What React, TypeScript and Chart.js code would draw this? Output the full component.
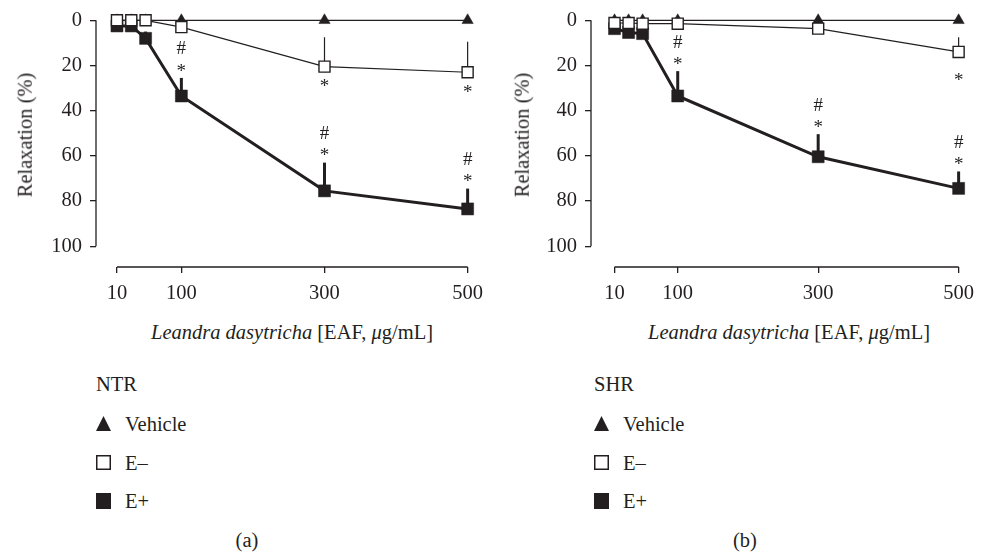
import React, { useEffect, useRef } from 'react';
import { Chart, registerables } from 'chart.js';

Chart.register(...registerables);

const INK = '#231f20';
const FONT = "'Liberation Serif', 'Times New Roman', serif";
const FS = 20.5;

// shared axes
const concentrations = [10, 30, 50, 100, 300, 500];
const xTickValues = [10, 100, 300, 500];
const xTickLabels = ['10', '100', '300', '500'];
const yTickValues = [0, 20, 40, 60, 80, 100];
const yTickLabels = ['0', '20', '40', '60', '80', '100'];
const seriesNames = ['Vehicle', 'E\u2013', 'E+'];
const xTitleItalic = 'Leandra dasytricha';
const xTitleRest = ' [EAF, ';
const xTitleUnit = 'g/mL]';
const yTitle = 'Relaxation (%)';

// (a) NTR
const ntrVehicle = [0, 0, 0, 0, 0, 0];
const ntrEMinus = [0, 0, 0, 3, 20.5, 23];
const ntrEMinusErr = [0, 0, 0, 0, 13, 13.5];
const ntrEPlus = [2.5, 2.5, 8, 33.5, 75.5, 83.5];
const ntrEPlusErr = [0, 0, 3, 8, 12.5, 9];
const ntrEMinusSig = ['', '', '', '', '*', '*'];
const ntrEPlusSig = ['', '', '', '#*', '#*', '#*'];

// (b) SHR
const shrVehicle = [0, 0, 0, 0, 0, 0];
const shrEMinus = [1.2, 1.2, 1.5, 1.5, 3.7, 14];
const shrEMinusErr = [0, 0, 0, 0, 0, 6.5];
const shrEPlus = [3.7, 5.4, 5.9, 33.5, 60.4, 74.4];
const shrEPlusErr = [0, 0, 0, 11, 10, 7.5];
const shrEMinusSig = ['', '', '', '', '', '*'];
const shrEPlusSig = ['', '', '', '#*', '#*', '#*'];

type PanelProps = {
  offsetX: number;
  group: string;
  caption: string;
  vehicle: number[];
  eMinus: number[];
  eMinusErr: number[];
  eMinusSig: string[];
  ePlus: number[];
  ePlusErr: number[];
  ePlusSig: string[];
  axisWidth: number;
  rightPad: number;
  xMin: number;
  starBelow: number;
  yTitleCx: number;
  xTitleCx: number;
  legendX: number;
  captionCx: number;
};

const CANVAS_W = 491;
const CANVAS_H = 310;

function Panel(p: PanelProps) {
  const ref = useRef<HTMLCanvasElement | null>(null);

  useEffect(() => {
    const canvas = ref.current;
    if (!canvas) return;
    const pts = (arr: number[]) => concentrations.map((x, i) => ({ x, y: arr[i] }));

    const axisPlugin = {
      id: 'axisLines',
      beforeDatasetsDraw(chart: any) {
        const { ctx, chartArea, scales } = chart;
        const x = scales.x, y = scales.y;
        ctx.save();
        ctx.strokeStyle = INK;
        ctx.lineWidth = 1.3;
        ctx.beginPath();
        ctx.moveTo(chartArea.left, y.getPixelForValue(yTickValues[0]));
        ctx.lineTo(chartArea.left, y.getPixelForValue(yTickValues[yTickValues.length - 1]));
        ctx.moveTo(x.getPixelForValue(xTickValues[0]), chartArea.bottom);
        ctx.lineTo(x.getPixelForValue(xTickValues[xTickValues.length - 1]), chartArea.bottom);
        ctx.stroke();
        ctx.restore();
      },
    };

    const errSpecs = [
      { values: p.eMinus, errs: p.eMinusErr, width: 1.2 },
      { values: p.ePlus, errs: p.ePlusErr, width: 3 },
    ];

    const errorPlugin = {
      id: 'errorBars',
      beforeDatasetsDraw(chart: any) {
        const { ctx, scales } = chart;
        const x = scales.x, y = scales.y;
        ctx.save();
        ctx.strokeStyle = INK;
        errSpecs.forEach((s) => {
          ctx.lineWidth = s.width;
          s.values.forEach((v, i) => {
            const e = s.errs[i];
            if (!e) return;
            const px = x.getPixelForValue(concentrations[i]);
            ctx.beginPath();
            ctx.moveTo(px, y.getPixelForValue(v));
            ctx.lineTo(px, y.getPixelForValue(v - e));
            ctx.stroke();
          });
        });
        ctx.restore();
      },
      afterDatasetsDraw(chart: any) {
        const { ctx, scales } = chart;
        const x = scales.x, y = scales.y;
        ctx.save();
        ctx.fillStyle = INK;
        ctx.font = `19px ${FONT}`;
        ctx.textAlign = 'center';
        ctx.textBaseline = 'alphabetic';
        const drawMark = (ch: string, px: number, cy: number) => {
          const base = ch === '*' ? cy + 8.8 : cy + 6.4;
          ctx.fillText(ch, px, base);
        };
        p.ePlus.forEach((v, i) => {
          const sig = p.ePlusSig[i];
          if (!sig) return;
          const px = x.getPixelForValue(concentrations[i]);
          const top = y.getPixelForValue(v - (p.ePlusErr[i] || 0));
          const chars = sig.split('');
          chars.reverse().forEach((ch, k) => drawMark(ch, px, top - 10 - k * 20));
        });
        p.eMinus.forEach((v, i) => {
          const sig = p.eMinusSig[i];
          if (!sig) return;
          const px = x.getPixelForValue(concentrations[i]);
          const cy = y.getPixelForValue(v);
          drawMark(sig, px, cy + p.starBelow);
        });
        ctx.restore();
      },
    };

    const tickFont = { family: FONT, size: FS };

    const chart = new Chart(canvas, {
      type: 'line',
      data: {
        datasets: [
          {
            label: seriesNames[1],
            data: pts(p.eMinus),
            borderColor: INK,
            borderWidth: 1.2,
            pointStyle: 'rect',
            pointRadius: 7.8,
            pointBackgroundColor: '#ffffff',
            pointBorderColor: INK,
            pointBorderWidth: 1.4,
            clip: false,
            tension: 0,
          },
          {
            label: seriesNames[2],
            data: pts(p.ePlus),
            borderColor: INK,
            borderWidth: 3,
            pointStyle: 'rect',
            pointRadius: 8.5,
            pointBackgroundColor: INK,
            pointBorderColor: INK,
            pointBorderWidth: 0.5,
            clip: false,
            tension: 0,
          },
          {
            label: seriesNames[0],
            data: pts(p.vehicle),
            borderColor: INK,
            borderWidth: 1.2,
            pointStyle: 'triangle',
            pointRadius: 6.5,
            pointBackgroundColor: INK,
            pointBorderColor: INK,
            pointBorderWidth: 0.5,
            clip: false,
            tension: 0,
          },
        ],
      } as any,
      options: {
        responsive: false,
        animation: false,
        events: [],
        layout: { padding: { left: 0, top: 20, right: p.rightPad, bottom: 0 } },
        plugins: {
          legend: { display: false },
          tooltip: { enabled: false },
        },
        scales: {
          x: {
            type: 'linear',
            min: p.xMin,
            max: xTickValues[xTickValues.length - 1],
            afterBuildTicks: (s: any) => {
              s.ticks = xTickValues.map((v) => ({ value: v }));
            },
            afterFit: (s: any) => {
              s.height = CANVAS_H - 267;
            },
            ticks: {
              callback: (v: any) => {
                const i = xTickValues.indexOf(Number(v));
                return i >= 0 ? xTickLabels[i] : '';
              },
              color: INK,
              font: tickFont,
              padding: 8,
              maxRotation: 0,
              autoSkip: false,
            },
            grid: { drawOnChartArea: false, tickLength: 6, color: INK, lineWidth: 1.3 },
            border: { display: false },
          },
          y: {
            type: 'linear',
            reverse: true,
            min: 0,
            max: 109.2,
            afterBuildTicks: (s: any) => {
              s.ticks = yTickValues.map((v) => ({ value: v }));
            },
            afterFit: (s: any) => {
              s.width = p.axisWidth;
            },
            ticks: {
              callback: (v: any) => {
                const i = yTickValues.indexOf(Number(v));
                return i >= 0 ? yTickLabels[i] : '';
              },
              color: INK,
              font: tickFont,
              padding: 8,
              autoSkip: false,
            },
            grid: { drawOnChartArea: false, tickLength: 6, color: INK, lineWidth: 1.3 },
            border: { display: false },
          },
        },
      } as any,
      plugins: [axisPlugin, errorPlugin],
    });
    return () => chart.destroy();
  }, []);

  const text: React.CSSProperties = {
    position: 'absolute',
    fontFamily: FONT,
    fontSize: FS,
    color: INK,
    lineHeight: 1,
    whiteSpace: 'nowrap',
  };
  const rowYs = [423.5, 462.5, 501];
  const markerX = p.legendX;
  const labelX = p.legendX + 29;

  return (
    <>
      <canvas
        ref={ref}
        width={CANVAS_W}
        height={CANVAS_H}
        style={{ position: 'absolute', left: p.offsetX, top: 0, width: CANVAS_W, height: CANVAS_H }}
      />
      <div
        style={{
          ...text,
          left: p.yTitleCx,
          top: 134.5,
          transform: 'translate(-50%, -50%) rotate(-90deg)',
        }}
      >
        {yTitle}
      </div>
      <div style={{ ...text, left: p.xTitleCx, top: 332, transform: 'translate(-50%, -50%)' }}>
        <i>{xTitleItalic}</i>
        {xTitleRest}
        <i>{'\u03bc'}</i>
        {xTitleUnit}
      </div>
      <div style={{ ...text, left: p.legendX, top: 383.5, transform: 'translateY(-50%)' }}>{p.group}</div>
      <svg width={15} height={15} style={{ position: 'absolute', left: markerX, top: rowYs[0] - 7.5 }}>
        <polygon points="7.5,0 15,15 0,15" fill={INK} />
      </svg>
      <svg width={15} height={15} style={{ position: 'absolute', left: markerX, top: rowYs[1] - 7.5 }}>
        <rect x={0.75} y={0.75} width={13.5} height={13.5} fill="#fff" stroke={INK} strokeWidth={1.5} />
      </svg>
      <svg width={15} height={16} style={{ position: 'absolute', left: markerX, top: rowYs[2] - 8 }}>
        <rect x={0} y={0} width={15} height={16} fill={INK} />
      </svg>
      {seriesNames.map((n, i) => (
        <div key={n} style={{ ...text, left: labelX, top: rowYs[i], transform: 'translateY(-50%)' }}>
          {n}
        </div>
      ))}
      <div style={{ ...text, left: p.captionCx, top: 540, transform: 'translate(-50%, -50%)' }}>{p.caption}</div>
    </>
  );
}

export default function App() {
  return (
    <div
      style={{
        position: 'absolute',
        left: 0,
        top: 0,
        width: 982,
        height: 554,
        background: '#ffffff',
        overflow: 'hidden',
      }}
    >
      <Panel
        offsetX={0}
        group="NTR"
        caption="(a)"
        vehicle={ntrVehicle}
        eMinus={ntrEMinus}
        eMinusErr={ntrEMinusErr}
        eMinusSig={ntrEMinusSig}
        ePlus={ntrEPlus}
        ePlusErr={ntrEPlusErr}
        ePlusSig={ntrEPlusSig}
        axisWidth={96}
        rightPad={CANVAS_W - 468}
        xMin={-19.3}
        starBelow={16.5}
        yTitleCx={25}
        xTitleCx={292}
        legendX={96}
        captionCx={247}
      />
      <Panel
        offsetX={491}
        group="SHR"
        caption="(b)"
        vehicle={shrVehicle}
        eMinus={shrEMinus}
        eMinusErr={shrEMinusErr}
        eMinusSig={shrEMinusSig}
        ePlus={shrEPlus}
        ePlusErr={shrEPlusErr}
        ePlusSig={shrEPlusSig}
        axisWidth={100}
        rightPad={CANVAS_W - 475}
        xMin={-23.5}
        starBelow={25}
        yTitleCx={522}
        xTitleCx={789}
        legendX={594}
        captionCx={745}
      />
    </div>
  );
}
